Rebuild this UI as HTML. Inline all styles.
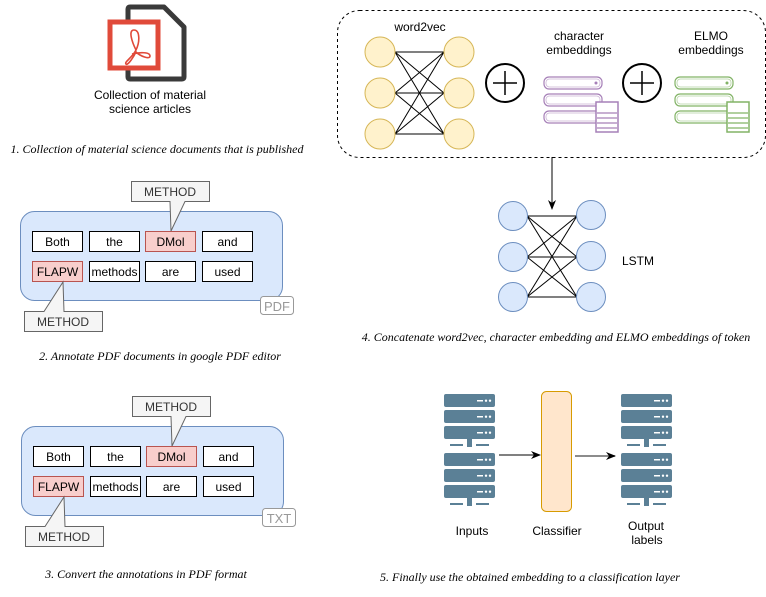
<!DOCTYPE html>
<html><head><meta charset="utf-8"><style>
html,body{margin:0;padding:0;background:#fff;}
svg{display:block;}
text{font-family:"Liberation Sans",sans-serif;font-size:12px;}
.cap{font-family:"Liberation Serif",serif;font-style:italic;font-size:12px;}
.tag{fill:#999;font-size:13px;}
.m{fill:#333;}
</style></head><body>
<svg width="766" height="597" viewBox="0 0 766 597" xmlns="http://www.w3.org/2000/svg">
<defs>
<g id="srv">
  <rect x="0" y="0" width="51" height="13" rx="2" fill="#5b8096"/>
  <rect x="0" y="16" width="51" height="13" rx="2" fill="#5b8096"/>
  <rect x="0" y="32" width="51" height="13" rx="2" fill="#5b8096"/>
  <g fill="#fff"><rect x="33" y="6" width="6" height="1.5"/><circle cx="42" cy="6.7" r="1.2"/><circle cx="46" cy="6.7" r="1.2"/>
  <rect x="33" y="22" width="6" height="1.5"/><circle cx="42" cy="22.7" r="1.2"/><circle cx="46" cy="22.7" r="1.2"/>
  <rect x="33" y="38" width="6" height="1.5"/><circle cx="42" cy="38.7" r="1.2"/><circle cx="46" cy="38.7" r="1.2"/></g>
  <rect x="6" y="50" width="13" height="2" fill="#5b8096"/><rect x="32" y="50" width="13" height="2" fill="#5b8096"/><rect x="23" y="45" width="5" height="8" fill="#5b8096"/>
</g>
<g id="srv2"><use href="#srv"/><use href="#srv" y="59"/></g>
<g id="emb" fill="none" stroke="currentColor">
  <rect x="0" y="0" width="58" height="12" rx="5" stroke-width="1.2"/>
  <rect x="2" y="2" width="54" height="8" rx="3.5" stroke-width="0.8" opacity="0.6"/>
  <circle cx="52" cy="6" r="1.5" fill="currentColor" stroke="none"/>
  <rect x="0" y="17" width="58" height="12" rx="5" stroke-width="1.2"/>
  <rect x="2" y="19" width="54" height="8" rx="3.5" stroke-width="0.8" opacity="0.6"/>
  <rect x="0" y="34" width="58" height="12" rx="5" stroke-width="1.2"/>
  <rect x="2" y="36" width="54" height="8" rx="3.5" stroke-width="0.8" opacity="0.6"/>
  <rect x="52" y="25" width="22" height="30" fill="#fff" stroke-width="1.5"/>
  <g stroke-width="1.2"><line x1="53" y1="36" x2="73" y2="36"/><line x1="53" y1="41" x2="73" y2="41"/><line x1="53" y1="46" x2="73" y2="46"/><line x1="53" y1="51" x2="73" y2="51"/></g>
</g>
<marker id="ah" markerWidth="10" markerHeight="8" refX="9" refY="4" orient="auto" markerUnits="userSpaceOnUse"><path d="M0,0 L10,4 L0,8 L3,4 Z" fill="#000"/></marker>
</defs>

<!-- Section 1 -->
<path d="M128,9 Q128,7 130,7 H164 L184,27 V77 Q184,79 182,79 H130 Q128,79 128,77 Z" fill="none" stroke="#3a3a3a" stroke-width="5" stroke-linejoin="round"/>
<rect x="110" y="22" width="48" height="46" fill="#fff" stroke="#e04a3a" stroke-width="5"/>
<path d="M134,30 C128,30 132,42 136,50 C132,58 124,62 126,64 C128,66 134,56 136,52 C140,56 150,60 150,56 C150,52 140,52 132,54 M136,50 C140,42 140,30 134,30" fill="none" stroke="#e04a3a" stroke-width="1.6"/>
<text x="150" y="99" text-anchor="middle">Collection of material</text>
<text x="150" y="113" text-anchor="middle">science articles</text>
<text class="cap" x="157" y="153" text-anchor="middle">1. Collection of material science documents that is published</text>

<!-- Section 2 -->
<g id="ann">
<rect x="20.5" y="211.5" width="262" height="89" rx="14" fill="#dae8fc" stroke="#6c8ebf"/>
<path d="M131.5,181.5 H209.5 V201.5 H185 L171,231 L170,201.5 H131.5 Z" fill="#f5f5f5" stroke="#666"/>
<text class="m" x="170" y="196" text-anchor="middle">METHOD</text>
<rect x="32.5" y="231.5" width="50" height="20" fill="#fff" stroke="#000"/><text x="57.5" y="246" text-anchor="middle">Both</text>
<rect x="89.5" y="231.5" width="50" height="20" fill="#fff" stroke="#000"/><text x="114.5" y="246" text-anchor="middle">the</text>
<rect x="145.5" y="231.5" width="50" height="20" fill="#f8cecc" stroke="#b85450"/><text x="170.5" y="246" text-anchor="middle">DMol</text>
<rect x="202.5" y="231.5" width="50" height="20" fill="#fff" stroke="#000"/><text x="227.5" y="246" text-anchor="middle">and</text>
<rect x="32.5" y="261.5" width="50" height="20" fill="#f8cecc" stroke="#b85450"/><text x="57.5" y="276" text-anchor="middle">FLAPW</text>
<rect x="89.5" y="261.5" width="50" height="20" fill="#fff" stroke="#000"/><text x="114.5" y="276" text-anchor="middle">methods</text>
<rect x="145.5" y="261.5" width="50" height="20" fill="#fff" stroke="#000"/><text x="170.5" y="276" text-anchor="middle">are</text>
<rect x="202.5" y="261.5" width="50" height="20" fill="#fff" stroke="#000"/><text x="227.5" y="276" text-anchor="middle">used</text>
<path d="M24.5,311.5 H44 L63,282 L64,311.5 H102.5 V331.5 H24.5 Z" fill="#f5f5f5" stroke="#666"/>
<text class="m" x="63" y="326" text-anchor="middle">METHOD</text>
</g>
<rect x="260.5" y="296.5" width="33" height="18" rx="3" fill="#fff" stroke="#999"/>
<text class="tag" x="277" y="311" text-anchor="middle">PDF</text>
<text class="cap" x="160" y="360" text-anchor="middle">2. Annotate PDF documents in google PDF editor</text>

<!-- Section 3 -->
<use href="#ann" x="1" y="215"/>
<rect x="262.5" y="508.5" width="33" height="18" rx="3" fill="#fff" stroke="#999"/>
<text class="tag" x="279" y="523" text-anchor="middle">TXT</text>
<text class="cap" x="146" y="578" text-anchor="middle">3. Convert the annotations in PDF format</text>

<!-- Section 4 -->
<rect x="337.5" y="10.5" width="428" height="147" rx="22" fill="none" stroke="#000" stroke-dasharray="3,3"/>
<text x="420" y="31" text-anchor="middle">word2vec</text>
<g stroke="#000" stroke-width="1">
<line x1="395" y1="52" x2="444" y2="52"/><line x1="395" y1="52" x2="444" y2="93"/><line x1="395" y1="52" x2="444" y2="134"/>
<line x1="395" y1="93" x2="444" y2="52"/><line x1="395" y1="93" x2="444" y2="93"/><line x1="395" y1="93" x2="444" y2="134"/>
<line x1="395" y1="134" x2="444" y2="52"/><line x1="395" y1="134" x2="444" y2="93"/><line x1="395" y1="134" x2="444" y2="134"/>
</g>
<g fill="#fff2cc" stroke="#d6b656">
<circle cx="380" cy="52" r="15"/><circle cx="380" cy="93" r="15"/><circle cx="380" cy="134" r="15"/>
<circle cx="459" cy="52" r="15"/><circle cx="459" cy="93" r="15"/><circle cx="459" cy="134" r="15"/>
</g>
<g fill="#fff" stroke="#000" stroke-width="2">
<circle cx="505" cy="83" r="19"/><circle cx="642" cy="83" r="19"/>
</g>
<g stroke="#000" stroke-width="1.5"><line x1="493" y1="83" x2="517" y2="83"/><line x1="505" y1="71" x2="505" y2="95"/><line x1="630" y1="83" x2="654" y2="83"/><line x1="642" y1="71" x2="642" y2="95"/></g>
<text x="579" y="40" text-anchor="middle">character</text>
<text x="579" y="54" text-anchor="middle">embeddings</text>
<text x="711" y="40" text-anchor="middle">ELMO</text>
<text x="711" y="54" text-anchor="middle">embeddings</text>
<use href="#emb" x="544" y="77" style="color:#a680b8"/>
<use href="#emb" x="675" y="77" style="color:#82b366"/>
<line x1="552" y1="157" x2="552" y2="209" stroke="#000" marker-end="url(#ah)"/>
<g stroke="#000" stroke-width="1">
<line x1="527" y1="216" x2="577" y2="216"/><line x1="527" y1="216" x2="577" y2="257"/><line x1="527" y1="216" x2="577" y2="297"/>
<line x1="527" y1="257" x2="577" y2="216"/><line x1="527" y1="257" x2="577" y2="257"/><line x1="527" y1="257" x2="577" y2="297"/>
<line x1="527" y1="297" x2="577" y2="216"/><line x1="527" y1="297" x2="577" y2="257"/><line x1="527" y1="297" x2="577" y2="297"/>
</g>
<g fill="#dae8fc" stroke="#6c8ebf">
<circle cx="513" cy="216" r="14.5"/><circle cx="513" cy="257" r="14.5"/><circle cx="513" cy="297" r="14.5"/>
<circle cx="591" cy="215" r="14.5"/><circle cx="591" cy="256" r="14.5"/><circle cx="591" cy="297" r="14.5"/>
</g>
<text x="622" y="265">LSTM</text>
<text class="cap" x="556" y="341" text-anchor="middle">4. Concatenate word2vec, character embedding and ELMO embeddings of token</text>

<!-- Section 5 -->
<use href="#srv2" x="444" y="394"/>
<use href="#srv2" x="621" y="394"/>
<rect x="541.5" y="391.5" width="30" height="120" rx="5" fill="#ffe6cc" stroke="#d79b00"/>
<line x1="499" y1="455" x2="540" y2="455" stroke="#000" marker-end="url(#ah)"/>
<line x1="575" y1="456" x2="615" y2="456" stroke="#666" stroke-width="1.5" marker-end="url(#ah)"/>
<text x="472" y="535" text-anchor="middle">Inputs</text>
<text x="557" y="535" text-anchor="middle">Classifier</text>
<text x="646" y="530" text-anchor="middle">Output</text>
<text x="647" y="544" text-anchor="middle">labels</text>
<text class="cap" x="530" y="581" text-anchor="middle">5. Finally use the obtained embedding to a classification layer</text>
</svg>
</body></html>
